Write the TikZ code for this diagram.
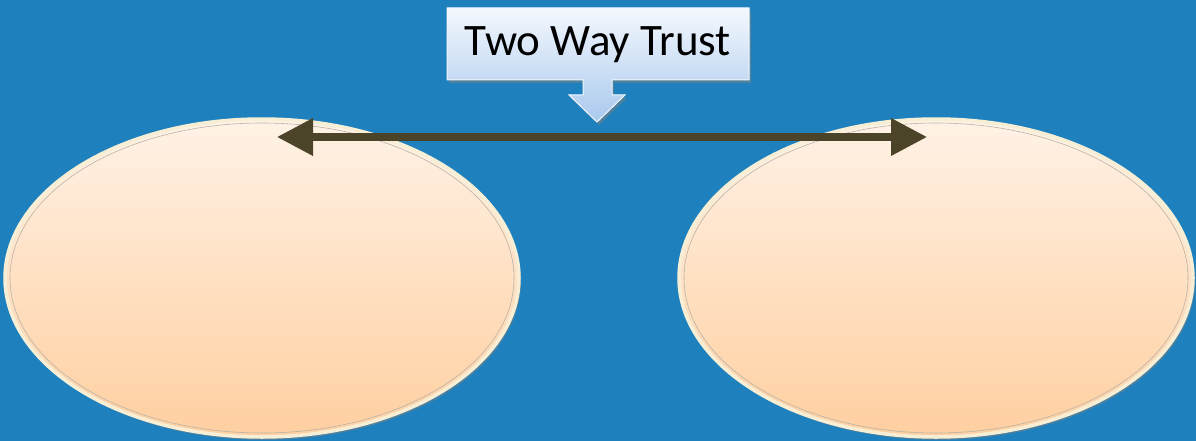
\documentclass[tikz,border=0pt]{standalone}
\usepackage{fontspec}
\setmainfont{Carlito}
\usetikzlibrary{arrows.meta,shadows,shapes.geometric}
\definecolor{bg}{HTML}{1E80BD}
\definecolor{peachtop}{HTML}{FFF2E6}
\definecolor{peachbot}{HTML}{FFCFA0}
\definecolor{rimc}{HTML}{F6EFD6}
\definecolor{olive}{HTML}{4B4428}
\definecolor{calltop}{HTML}{F4F8FD}
\definecolor{callbot}{HTML}{A9C9EE}
\tikzset{
  oval/.style={shade, top color=peachtop, bottom color=peachbot, draw=rimc, line width=3.5pt,
    drop shadow={shadow xshift=2pt, shadow yshift=-3pt, opacity=0.5}},
  ovalin/.style={draw=olive!40, line width=0.6pt},
  callout/.style={shade, top color=calltop, bottom color=callbot, draw=white!85!callbot, line width=1pt,
    drop shadow={shadow xshift=2pt, shadow yshift=-3pt, opacity=0.5}},
  trust/.style={draw=olive, line width=7pt, {Triangle[length=36pt,width=36pt]}-{Triangle[length=36pt,width=36pt]}}
}
\begin{document}
\begin{tikzpicture}[x=1pt,y=-1pt]
\fill[bg] (0,0) rectangle (1196,441);
\useasboundingbox (0,0) rectangle (1196,441);
% ellipses
\node[oval, ellipse, minimum width=514pt, minimum height=318pt, inner sep=0pt] (left) at (262,278) {};
\draw[ovalin] (262,278) ellipse [x radius=252, y radius=155];
\node[oval, ellipse, minimum width=514pt, minimum height=318pt, inner sep=0pt] (right) at (936,278) {};
\draw[ovalin] (936,278) ellipse [x radius=252, y radius=155];
% callout
\path[callout] (447,8) -- (749,8) -- (749,80) -- (612,80) -- (612,95) -- (625,95)
  -- (597,122) -- (569,95) -- (583,95) -- (583,80) -- (447,80) -- cycle;
\node[font=\fontsize{45}{50}\selectfont, text=black, inner sep=0pt] (label) at (598,45) {Two Way Trust};
\coordinate (la) at (277,137);
\coordinate (ra) at (927,137);
\draw[trust] (la) -- (ra);
\end{tikzpicture}
\end{document}
